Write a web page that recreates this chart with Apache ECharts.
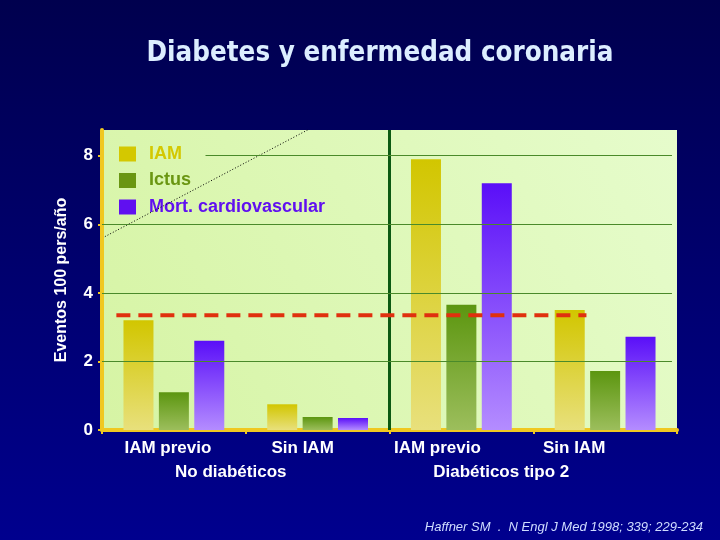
<!DOCTYPE html>
<html><head><meta charset="utf-8">
<script src="https://cdn.jsdelivr.net/npm/echarts@6/dist/echarts.min.js"></script>
<style>html,body{margin:0;padding:0;background:#000060}#c{width:720px;height:540px}</style>
</head><body><div id="c"></div>
<script>
const categories = ['IAM previo', 'Sin IAM', 'IAM previo', 'Sin IAM'];
const groups = ['No diabéticos', 'Diabéticos tipo 2'];
const seriesNames = ['IAM', 'Ictus', 'Mort. cardiovascular'];
const iam = [3.2, 0.75, 7.9, 3.5];
const ictus = [1.1, 0.38, 3.65, 1.72];
const mort = [2.6, 0.35, 7.2, 2.72];
const yTicks = [0, 2, 4, 6, 8];
const refLevel = 3.35;
const dividerAt = 2;

const F = 'Liberation Sans, Arial, sans-serif';
const yMax = 8.75;
const labelShift = [12, 30, 48, 62];
const groupShift = [30, 64];

function grad(top, bottom) {
  return {type:'linear', x:0, y:0, x2:0, y2:1, colorStops:[{offset:0,color:top},{offset:1,color:bottom}]};
}
const barColors = [grad('#d2c600','#e8e07c'), grad('#5c9610','#9cbe5c'), grad('#5a0ff8','#b48cff')];
const legendColors = ['#d4c800', '#6a9612', '#6010f0'];
const values = [iam, ictus, mort];

const gridLines = yTicks.filter(v => v > 0).map(v => [
  {coord: [v === 8 ? 0.72 : 0, v]},
  {coord: [3.965, v]}
]);

const bars = seriesNames.map((n, i) => ({
  name: n, type: 'bar', data: values[i], xAxisIndex: 0, yAxisIndex: 0,
  barWidth: 30, barGap: '18%', z: 3,
  itemStyle: {color: barColors[i]}
}));

const option = {
  animation: false,
  backgroundColor: {type:'linear', x:0, y:0, x2:0, y2:1, colorStops:[{offset:0,color:'#00004e'},{offset:1,color:'#00008e'}]},
  graphic: [
    {type:'text', x:380, y:54, style:{text:'Diabetes y enfermedad coronaria', fill:'#dceeff', font:'bold 27.5px "DejaVu Sans Condensed", "DejaVu Sans", sans-serif', textAlign:'center', textVerticalAlign:'middle'}},
    {type:'text', x:703, y:527, style:{text:'Haffner SM  .  N Engl J Med 1998; 339; 229-234', fill:'#cfdcff', font:'italic 13px "Liberation Sans", Arial, sans-serif', textAlign:'right', textVerticalAlign:'middle'}}
  ],
  grid: {left:102, right:43, top:130, bottom:110, show:true, borderWidth:0,
    backgroundColor: {type:'linear', x:0, y:1, x2:1, y2:0, colorStops:[{offset:0,color:'#d6f4a4'},{offset:1,color:'#e6fccc'}]}},
  legend: {
    orient:'vertical', left:114, top:140, itemWidth:17, itemHeight:15, itemGap:8.5,
    icon:'rect',
    data: seriesNames.map((n, i) => ({name:n, itemStyle:{color:legendColors[i]}, textStyle:{color:legendColors[i]}})),
    textStyle:{fontFamily:F, fontWeight:'bold', fontSize:18, padding:[0,0,0,8]}
  },
  xAxis: [
    {type:'category', data: categories.map((c, i) => ({value:c, textStyle:{padding:[0, labelShift[i], 0, 0]}})),
      position:'bottom',
      axisLine:{lineStyle:{color:'#f0c820', width:4}},
      axisTick:{show:true, length:4, lineStyle:{color:'#f0c820', width:2}},
      axisLabel:{color:'#ffffff', fontFamily:F, fontWeight:'bold', fontSize:17, margin:10},
      splitLine:{show:false}},
    {type:'value', min:0, max:4, show:false},
    {type:'category', data: groups.map((g, i) => ({value:g, textStyle:{padding:[0, groupShift[i], 0, 0]}})),
      position:'bottom', offset:24,
      axisLine:{show:false}, axisTick:{show:false},
      axisLabel:{color:'#ffffff', fontFamily:F, fontWeight:'bold', fontSize:17, margin:10}}
  ],
  yAxis: [{type:'value', min:0, max:yMax, interval:2,
    name:'Eventos 100 pers/año', nameLocation:'middle', nameGap:32,
    nameTextStyle:{color:'#ffffff', fontFamily:F, fontWeight:'bold', fontSize:16},
    axisLine:{show:true, lineStyle:{color:'#f0c820', width:4}},
    axisTick:{show:true, length:4, lineStyle:{color:'#f0c820', width:2}},
    axisLabel:{color:'#ffffff', fontFamily:F, fontWeight:'bold', fontSize:17, margin:9, showMaxLabel:false},
    splitLine:{show:false}}],
  series: [
    {type:'line', xAxisIndex:1, yAxisIndex:0, data:[], z:1, silent:true,
      markLine:{symbol:'none', silent:true, label:{show:false},
        lineStyle:{color:'#4a8a2a', width:1, type:'solid'}, data: gridLines}},
    ...bars,
    {type:'line', xAxisIndex:1, yAxisIndex:0, symbol:'none', z:5, silent:true,
      data:[[0.1, refLevel], [3.37, refLevel]],
      lineStyle:{color:'#e0300e', width:4, type:[14, 8]}},
    {type:'line', xAxisIndex:1, yAxisIndex:0, symbol:'none', z:4, silent:true,
      data:[[dividerAt, 0], [dividerAt, yMax]],
      lineStyle:{color:'#0c5a12', width:3}},
    {type:'line', xAxisIndex:1, yAxisIndex:0, symbol:'none', z:4, silent:true,
      data:[[0.02, 5.64], [1.43, yMax]],
      lineStyle:{color:'#000000', width:1, type:[1, 2]}}
  ]
};
echarts.init(document.getElementById('c'), null, {renderer:'canvas'}).setOption(option);
</script></body></html>
